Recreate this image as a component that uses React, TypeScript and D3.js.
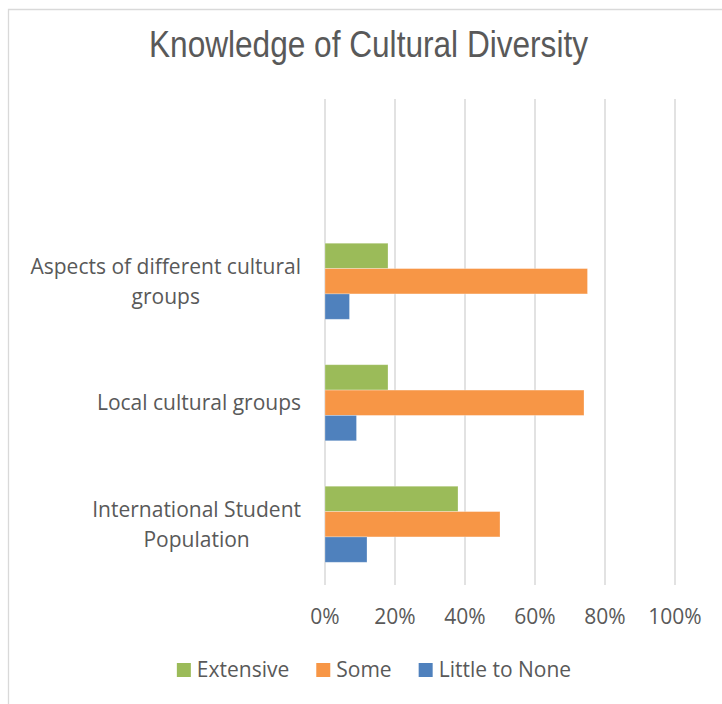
import React, { useEffect, useRef } from 'react';
import * as d3 from 'd3';

// chart data
const categories = [
  'Aspects of different cultural groups',
  'Local cultural groups',
  'International Student Population',
];
// wrapped label lines as they appear on the axis
const categoryLines = [
  ['Aspects of different cultural', 'groups'],
  ['Local cultural groups'],
  ['International Student', 'Population'],
];
const seriesNames = ['Extensive', 'Some', 'Little to None'];
const extensive = [0.18, 0.18, 0.38];
const some = [0.75, 0.74, 0.5];
const littleToNone = [0.07, 0.09, 0.12];
const seriesColors = ['#9BBB59', '#F79646', '#4F81BD'];
const xTicks = [0, 0.2, 0.4, 0.6, 0.8, 1];

const W = 722;
const H = 704;
const TEXT = '#595959';
const FONT = '"Open Sans", sans-serif';
const FS = 21;

const App: React.FC = () => {
  const ref = useRef<SVGSVGElement>(null);

  useEffect(() => {
    if (!ref.current) return;
    const svg = d3.select(ref.current);
    svg.selectAll('*').remove();

    const left = 325;
    const right = 675;
    const top = 99;
    const bottom = 585;

    // outer chart border (only top/left visible in the crop)
    svg.append('path')
      .attr('d', `M8.5,${H} V9.5 H${W}`)
      .attr('fill', 'none')
      .attr('stroke', '#d9d9d9')
      .attr('stroke-width', 1.3);

    // title
    svg.append('text')
      .attr('x', 368.5)
      .attr('y', 57)
      .attr('text-anchor', 'middle')
      .attr('font-family', '"Liberation Sans", Arial, sans-serif')
      .attr('font-size', 36)
      .attr('textLength', 439)
      .attr('lengthAdjust', 'spacingAndGlyphs')
      .attr('fill', TEXT)
      .text('Knowledge of Cultural Diversity');

    const x = d3.scaleLinear().domain([0, 1]).range([left, right]);
    // blank first slot keeps the empty space above the first group
    const y = d3.scaleBand<string>()
      .domain(['', ...categories])
      .range([top, bottom])
      .paddingInner(0.374)
      .paddingOuter(0.187);
    const ySeries = d3.scaleBand<string>()
      .domain(seriesNames)
      .range([0, y.bandwidth()]);

    // gridlines
    svg.append('g')
      .selectAll('line')
      .data(xTicks)
      .join('line')
      .attr('x1', (d) => x(d))
      .attr('x2', (d) => x(d))
      .attr('y1', top)
      .attr('y2', bottom)
      .attr('stroke', '#d9d9d9')
      .attr('stroke-width', 1.5);

    // bars
    const seriesValues = [extensive, some, littleToNone];
    const rows = categories.flatMap((c, i) =>
      seriesNames.map((s, j) => ({ c, s, v: seriesValues[j][i], color: seriesColors[j] }))
    );
    svg.append('g')
      .selectAll('rect')
      .data(rows)
      .join('rect')
      .attr('x', x(0))
      .attr('y', (d) => (y(d.c) as number) + (ySeries(d.s) as number))
      .attr('width', (d) => x(d.v) - x(0))
      .attr('height', ySeries.bandwidth())
      .attr('fill', (d) => d.color)
      .attr('stroke', '#ffffff')
      .attr('stroke-opacity', 0.35)
      .attr('stroke-width', 0.8);

    // x tick labels
    svg.append('g')
      .selectAll('text')
      .data(xTicks)
      .join('text')
      .attr('x', (d) => x(d))
      .attr('y', 617)
      .attr('dy', '0.35em')
      .attr('text-anchor', 'middle')
      .attr('font-family', FONT)
      .attr('font-size', FS)
      .attr('fill', TEXT)
      .text((d) => d3.format('.0%')(d));

    // category labels: block right aligned, lines centred within block
    const labelRight = 301;
    const lineH = 30;
    categories.forEach((c, i) => {
      const lines = categoryLines[i];
      const g = svg.append('g');
      const cy = (y(c) as number) + y.bandwidth() / 2;
      const texts = lines.map((ln, k) =>
        g.append('text')
          .attr('y', cy + (k - (lines.length - 1) / 2) * lineH)
          .attr('dy', '0.35em')
          .attr('text-anchor', 'middle')
          .attr('font-family', FONT)
          .attr('font-size', FS)
          .attr('fill', TEXT)
          .text(ln)
      );
      const maxW = d3.max(texts, (t) => (t.node() as SVGTextElement).getComputedTextLength()) || 0;
      texts.forEach((t) => t.attr('x', labelRight - maxW / 2));
    });

    // legend
    const legend = svg.append('g');
    let cursor = 0;
    const legendY = 670;
    seriesNames.forEach((s, j) => {
      legend.append('rect')
        .attr('x', cursor)
        .attr('y', legendY - 7)
        .attr('width', 14)
        .attr('height', 14)
        .attr('fill', seriesColors[j]);
      const t = legend.append('text')
        .attr('x', cursor + 20)
        .attr('y', legendY)
        .attr('dy', '0.35em')
        .attr('font-family', FONT)
        .attr('font-size', FS)
        .attr('fill', TEXT)
        .text(s);
      cursor += 20 + (t.node() as SVGTextElement).getComputedTextLength() + 27;
    });
    const legendW = cursor - 27;
    legend.attr('transform', `translate(${374 - legendW / 2},0)`);
  }, []);

  return (
    <svg
      ref={ref}
      width={W}
      height={H}
      style={{ position: 'absolute', left: 0, top: 0, background: '#fff' }}
    />
  );
};

export default App;
